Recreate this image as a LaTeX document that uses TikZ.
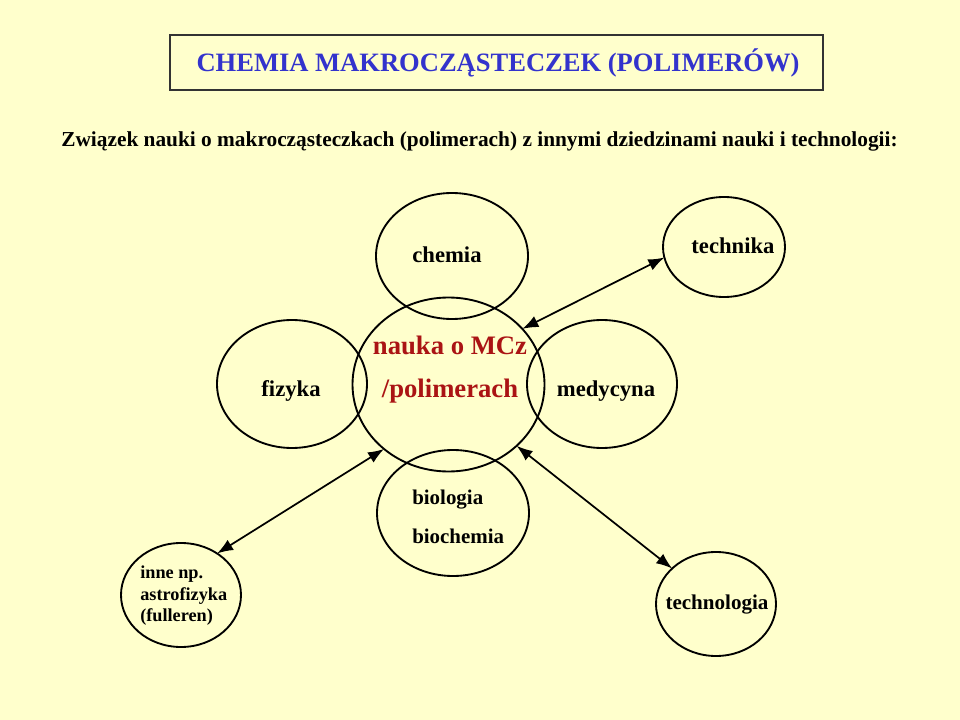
\documentclass[tikz,border=0pt]{standalone}
\usepackage{fontspec}
\setmainfont{Liberation Serif}
\usetikzlibrary{shapes.geometric,arrows.meta}
\definecolor{bgyellow}{RGB}{255,255,204}
\definecolor{titleblue}{RGB}{51,51,204}
\definecolor{darkred}{RGB}{170,20,20}
\tikzset{
  ring/.style={draw=black,line width=1.4pt,shape=ellipse,inner sep=0pt,outer sep=0pt},
  lbl/.style={inner sep=0pt,font=\fontsize{17}{20}\selectfont\bfseries,anchor=mid},
  small/.style={inner sep=0pt,font=\fontsize{15.7}{19}\selectfont\bfseries,anchor=mid west},
  link/.style={line width=1.3pt,{Latex[length=12pt,width=9pt]}-{Latex[length=12pt,width=9pt]}},
}
\begin{document}
\begin{tikzpicture}[x=0.75pt,y=-0.75pt]
\fill[bgyellow] (0,0) rectangle (960,720);
\useasboundingbox (0,0) rectangle (960,720);
% title
\node[draw=black!80,line width=1.3pt,minimum width=490pt,minimum height=41.25pt,inner sep=0pt] (titlebox) at (496.5,62.5) {};
\node[inner sep=0pt,text=titleblue,font=\fontsize{19.9}{24}\selectfont\bfseries] (title) at (498,63) {CHEMIA MAKROCZĄSTECZEK (POLIMERÓW)};
\node[inner sep=0pt,anchor=mid,font=\fontsize{16}{19}\selectfont\bfseries] (subtitle) at (479.5,143) {Związek nauki o makrocząsteczkach (polimerach) z innymi dziedzinami nauki i technologii:};
% circles
\node[ring,minimum width=114pt,minimum height=94.5pt] (chemia) at (452,256) {};
\node[ring,minimum width=91.5pt,minimum height=75pt] (technika) at (724,247) {};
\node[ring,minimum width=112.5pt,minimum height=96pt] (fizyka) at (292,384) {};
\node[ring,minimum width=112.5pt,minimum height=96pt] (medycyna) at (602,384) {};
\node[ring,minimum width=144pt,minimum height=130.5pt] (nauka) at (448.5,384.5) {};
\node[ring,minimum width=114pt,minimum height=94.5pt] (biologia) at (453,513) {};
\node[ring,minimum width=90pt,minimum height=78pt] (inne) at (181,595) {};
\node[ring,minimum width=90pt,minimum height=78pt] (technologia) at (716,604) {};
% labels
\node[lbl] (tchemia) at (447,259) {chemia};
\node[lbl] (ttechnika) at (733,250) {technika};
\node[lbl] (tfizyka) at (291,393) {fizyka};
\node[lbl] (tmedycyna) at (606,393) {medycyna};
\node[lbl,text=darkred,font=\fontsize{20}{24}\selectfont\bfseries] (tnauka1) at (450,351) {nauka o MCz};
\node[lbl,text=darkred,font=\fontsize{20}{24}\selectfont\bfseries] (tnauka2) at (450,394) {/polimerach};
\node[small] (tbio1) at (412,501) {biologia};
\node[small] (tbio2) at (412,540) {biochemia};
\node[lbl,font=\fontsize{15.8}{19}\selectfont\bfseries] (ttechnologia) at (717,606) {technologia};
\node[inner sep=0pt,anchor=north west,align=left,font=\fontsize{13.7}{16.1}\selectfont\bfseries] (tinne) at (140,566) {inne np.\\astrofizyka\\(fulleren)};
% connectors
\draw[link] (nauka.37) -- (technika.190);
\draw[link] (nauka.225) -- (inne.49);
\draw[link] (nauka.318) -- (technologia.141);
\end{tikzpicture}
\end{document}
